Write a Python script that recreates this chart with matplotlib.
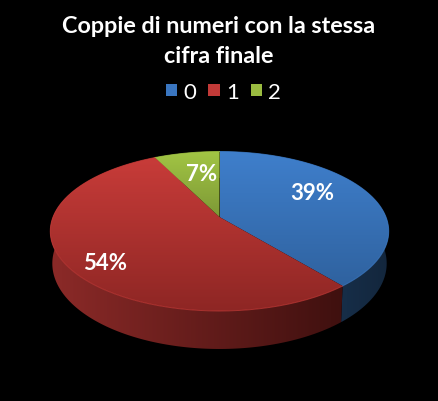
import numpy as np
from matplotlib import pyplot as plt
from matplotlib.colors import LinearSegmentedColormap
from matplotlib.patches import Patch, Polygon

categories = ['0', '1', '2']
values = [39.0, 53.6, 7.4]
title = 'Coppie di numeri con la stessa\ncifra finale'

top_colors = [('#3f7fcc', '#2f629f'), ('#c83c39', '#8e2624'), ('#a2c544', '#7d9936')]
side_colors = [('#1f4268', '#13263c'), ('#8c2a28', '#3f100f'), ('#6a8030', '#4a5a20')]
legend_colors = ['#3a76c0', '#c23a38', '#9abb40']

cx, cy = 219.5, 218.0
B, A, k = 166.5, 77.2, 0.1787
depth = 31.2


def project(angle, r=1.0, drop=0.0):
    # angle clockwise from the top, pie seen in perspective
    u = r * np.sin(angle)
    v = r * np.cos(angle)
    d = 1 + k * v
    shrink = 1 - 0.012 * drop / depth
    return cx + B * u / d * shrink, cy + (-v * A + drop) / d


def fill_gradient(poly, c1, c2, horizontal=False):
    ax.add_patch(poly)
    poly.set_facecolor('none')
    poly.set_edgecolor('none')
    cmap = LinearSegmentedColormap.from_list('g', [c1, c2])
    grad = np.linspace(0, 1, 256)
    grad = grad.reshape(1, -1) if horizontal else grad.reshape(-1, 1)
    xs, ys = poly.get_xy().T
    im = ax.imshow(grad, cmap=cmap, extent=(xs.min(), xs.max(), ys.max(), ys.min()),
                   aspect='auto', zorder=poly.get_zorder(), interpolation='bilinear')
    im.set_clip_path(poly)


fig = plt.figure(figsize=(4.38, 4.02), dpi=100, facecolor='black')
ax = fig.add_axes([0, 0, 1, 1])
ax.set_facecolor('black')
ax.axis('off')

fracs = np.array(values) / sum(values)
edges = np.concatenate([[0], np.cumsum(fracs)]) * 2 * np.pi

# walls first, the tops cover the back part of them
for i in range(len(values)):
    a = np.linspace(edges[i], edges[i + 1], 200)
    x1, y1 = project(a)
    x2, y2 = project(a, drop=depth)
    pts = np.column_stack([np.r_[x1, x2[::-1]], np.r_[y1, y2[::-1]]])
    fill_gradient(Polygon(pts, closed=True, zorder=2), side_colors[i][0], side_colors[i][1], horizontal=True)

for i in range(len(values)):
    a = np.linspace(edges[i], edges[i + 1], 200)
    x1, y1 = project(a)
    pts = np.column_stack([np.r_[cx, x1], np.r_[cy, y1]])
    fill_gradient(Polygon(pts, closed=True, zorder=3), top_colors[i][0], top_colors[i][1])
    ax.plot(x1, y1, color=top_colors[i][0], lw=0.7, alpha=0.7, zorder=4)

# percent labels
nudges = [(-5, -8), (-18, 16), (4, 0)]
for i, val in enumerate(values):
    mid = (edges[i] + edges[i + 1]) / 2
    x, y = project(mid, r=0.65)
    ax.text(x + nudges[i][0], y + nudges[i][1], f'{round(val)}%', color='white', fontsize=16,
            fontweight='bold', family='Lato', ha='center', va='center', zorder=5)

ax.set_xlim(0, 438)
ax.set_ylim(402, 0)

fig.text(0.5, 0.897, title, color='white', fontsize=16.8, fontweight='bold', family='Lato',
         ha='center', va='center', linespacing=1.5)

handles = [Patch(facecolor=c, edgecolor='none') for c in legend_colors]
leg = fig.legend(handles, categories, loc='center', bbox_to_anchor=(0.51, 0.769), ncol=3, frameon=False,
                 handlelength=0.52, handleheight=0.52, handletextpad=0.27, columnspacing=0.55,
                 prop={'family': 'Lato', 'size': 16}, labelcolor='white')

plt.savefig('out.png', dpi=100, facecolor='black')
